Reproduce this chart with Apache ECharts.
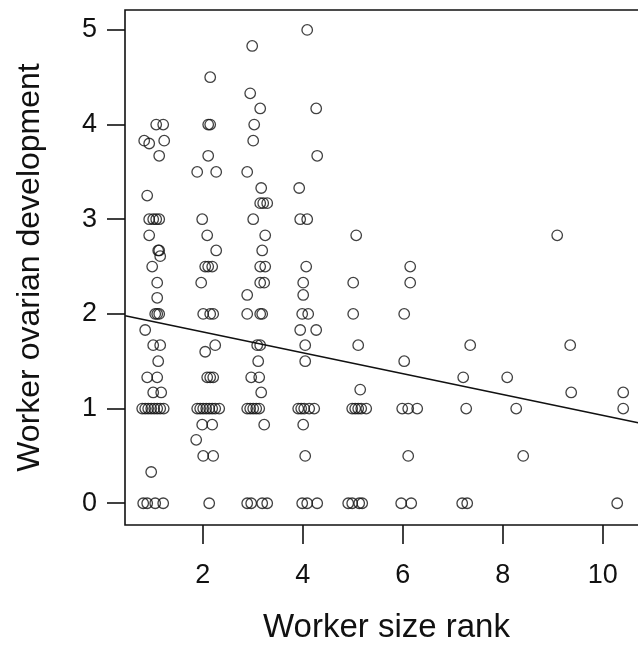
<!DOCTYPE html>
<html>
<head>
<meta charset="utf-8">
<script src="https://cdn.jsdelivr.net/npm/echarts@6/dist/echarts.min.js"></script>
<style>
html,body{margin:0;padding:0;background:#fff;overflow:hidden;width:638px;height:649px}
#wrap{position:relative;width:638px;height:649px;overflow:hidden}
#c{position:absolute;left:0;top:0;width:662px;height:649px}
</style>
</head>
<body>
<div id="wrap"><div id="c"></div></div>
<script>
// Worker size rank (jittered) and ovarian development score
const sizeRank = [
  1.07,1.21,0.83,0.93,1.23,1.13,0.89,0.93,1.01,1.07,1.13,0.93,1.11,1.13,1.15,0.99,1.09,1.09,1.05,1.09,1.13,0.85,1.01,1.15,1.11,0.89,1.09,1.01,1.17,
  0.79,0.85,0.91,0.97,1.03,1.09,1.15,1.22,0.97,0.81,0.89,1.05,1.21,
  2.15,2.11,2.15,2.11,1.89,2.27,1.99,2.09,2.27,2.05,2.11,2.19,1.97,2.01,2.15,2.21,2.25,2.05,2.09,2.15,2.21,
  1.89,1.95,2.01,2.07,2.13,2.19,2.25,2.33,1.99,2.19,1.87,2.01,2.21,2.13,
  2.99,2.95,3.15,3.03,3.01,2.89,3.17,3.15,3.21,3.29,3.01,3.25,3.19,3.15,3.25,3.15,3.23,2.89,2.89,3.15,3.19,
  3.09,3.15,3.11,2.97,3.13,3.17,2.89,2.95,3.01,3.07,3.13,3.23,2.89,2.97,3.19,3.29,
  4.09,4.27,4.29,3.93,3.95,4.09,4.07,4.01,4.01,3.99,4.11,3.95,4.27,4.05,4.05,3.91,3.97,4.03,4.13,4.23,4.01,4.05,3.99,4.09,4.29,
  5.07,5.01,5.01,5.11,5.15,4.99,5.05,5.11,5.17,5.27,4.91,4.99,5.13,5.19,
  6.15,6.15,6.03,6.03,5.99,6.11,6.29,6.11,5.97,6.17,
  7.35,7.21,7.27,7.19,7.29,
  8.09,8.27,8.41,
  9.09,9.35,9.37,
  10.41,10.41,10.29
];
const ovaryDev = [
  4.0,4.0,3.83,3.8,3.83,3.67,3.25,3.0,3.0,3.0,3.0,2.83,2.67,2.67,2.61,2.5,2.33,2.17,2.0,2.0,2.0,1.83,1.67,1.67,1.5,1.33,1.33,1.17,1.17,
  1,1,1,1,1,1,1,1,0.33,0,0,0,0,
  4.5,4.0,4.0,3.67,3.5,3.5,3.0,2.83,2.67,2.5,2.5,2.5,2.33,2.0,2.0,2.0,1.67,1.6,1.33,1.33,1.33,
  1,1,1,1,1,1,1,1,0.83,0.83,0.67,0.5,0.5,0,
  4.83,4.33,4.17,4.0,3.83,3.5,3.33,3.17,3.17,3.17,3.0,2.83,2.67,2.5,2.5,2.33,2.33,2.2,2.0,2.0,2.0,
  1.67,1.67,1.5,1.33,1.33,1.17,1,1,1,1,1,0.83,0,0,0,0,
  5.0,4.17,3.67,3.33,3.0,3.0,2.5,2.33,2.2,2.0,2.0,1.83,1.83,1.67,1.5,1,1,1,1,1,0.83,0.5,0,0,0,
  2.83,2.33,2.0,1.67,1.2,1,1,1,1,1,0,0,0,0,
  2.5,2.33,2.0,1.5,1,1,1,0.5,0,0,
  1.67,1.33,1.0,0,0,
  1.33,1.0,0.5,
  2.83,1.67,1.17,
  1.17,1.0,0
];
// fitted regression line end points
const fitX = [0.45, 10.9];
const fitY = [1.98, 0.83];
const xTicks = [2, 4, 6, 8, 10];
const yTicks = [0, 1, 2, 3, 4, 5];

const pts = sizeRank.map((x, i) => [x, ovaryDev[i]]);
const fit = fitX.map((x, i) => [x, fitY[i]]);
const font = "'Liberation Sans', Arial, Helvetica, sans-serif";

const chart = echarts.init(document.getElementById('c'), null, {renderer: 'canvas', width: 662, height: 649});
chart.setOption({
  animation: false,
  backgroundColor: '#fff',
  grid: {left: 125, top: 10, right: 14, bottom: 119, show: true, borderColor: '#111', borderWidth: 1.6, backgroundColor: 'transparent'},
  xAxis: {
    type: 'value', min: 0.446, max: 10.906, position: 'bottom',
    name: 'Worker size rank', nameLocation: 'middle', nameGap: 86,
    nameTextStyle: {fontFamily: font, fontSize: 33, color: '#111'},
    axisLine: {show: false, onZero: false},
    splitLine: {show: false},
    axisTick: {show: true, length: 19, inside: false, lineStyle: {color: '#111', width: 1.6}, customValues: xTicks},
    axisLabel: {fontFamily: font, fontSize: 27, color: '#111', margin: 37, customValues: xTicks}
  },
  yAxis: {
    type: 'value', min: -0.23, max: 5.21,
    name: 'Worker ovarian development', nameLocation: 'middle', nameGap: 79, nameRotate: 90,
    nameTextStyle: {fontFamily: font, fontSize: 32, color: '#111'},
    axisLine: {show: false, onZero: false},
    splitLine: {show: false},
    axisTick: {show: true, length: 18, inside: false, lineStyle: {color: '#111', width: 1.6}, customValues: yTicks},
    axisLabel: {fontFamily: font, fontSize: 27, color: '#111', margin: 28, customValues: yTicks}
  },
  series: [
    {
      type: 'scatter', data: pts, symbol: 'circle', symbolSize: 10.5,
      itemStyle: {color: 'rgba(0,0,0,0)', borderColor: '#111', borderWidth: 1.3},
      clip: true, z: 3
    },
    {
      type: 'line', data: fit, symbol: 'none', clip: true,
      lineStyle: {color: '#111', width: 1.5}, z: 2
    }
  ]
});
</script>
</body>
</html>
